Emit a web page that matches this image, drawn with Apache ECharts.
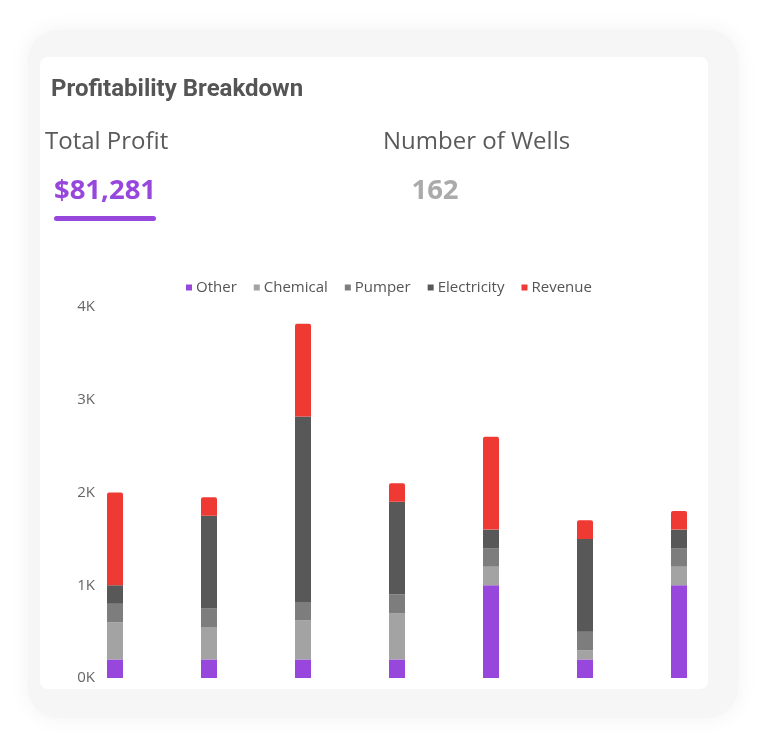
<!DOCTYPE html>
<html>
<head>
<meta charset="utf-8">
<script src="https://cdn.jsdelivr.net/npm/echarts@6/dist/echarts.min.js"></script>
<style>
html,body{margin:0;padding:0;background:#ffffff;}
#chart{width:768px;height:747px;}
</style>
</head>
<body>
<div id="chart"></div>
<script>
var categories = ['1', '2', '3', '4', '5', '6', '7'];
var seriesNames = ['Other', 'Chemical', 'Pumper', 'Electricity', 'Revenue'];
var otherValues = [200, 200, 200, 200, 1000, 200, 1000];
var chemicalValues = [400, 350, 420, 500, 200, 100, 200];
var pumperValues = [200, 200, 200, 200, 200, 200, 200];
var electricityValues = [200, 1000, 2000, 1000, 200, 1000, 200];
var revenueValues = [1000, 200, 1000, 200, 1000, 200, 200];
var yTicks = [0, 1000, 2000, 3000, 4000];
var totalProfitText = '$81,281';
var wellsText = '162';

var colors = ['#9747DB', '#A3A3A3', '#7D7D7D', '#585858', '#EF3A33'];
var valuesList = [otherValues, chemicalValues, pumperValues, electricityValues, revenueValues];

var chart = echarts.init(document.getElementById('chart'));
var series = seriesNames.map(function (name, i) {
  return {
    name: name,
    type: 'bar',
    stack: 'total',
    barWidth: 16,
    data: valuesList[i],
    itemStyle: {
      color: colors[i],
      borderRadius: i === 4 ? [2, 2, 0, 0] : 0
    },
    emphasis: { disabled: true }
  };
});

var option = {
  animation: false,
  color: colors,
  graphic: [
    {
      type: 'rect', z: -10,
      shape: { x: 28, y: 30, width: 710, height: 688, r: 30 },
      style: { fill: '#f6f6f6', shadowBlur: 22, shadowColor: 'rgba(242,242,242,1)' }
    },
    {
      type: 'rect', z: -9,
      shape: { x: 40, y: 57, width: 668, height: 632, r: 8 },
      style: { fill: '#ffffff' }
    },
    {
      type: 'text', z: 10,
      style: { text: 'Profitability Breakdown', x: 51, y: 90, font: 'bold 24px Roboto', fill: '#555555', verticalAlign: 'middle' }
    },
    {
      type: 'text', z: 10,
      style: { text: 'Total Profit', x: 45, y: 142, font: '24px "Open Sans"', fill: '#5a5a5a', verticalAlign: 'middle' }
    },
    {
      type: 'text', z: 10,
      style: { text: 'Number of Wells', x: 383, y: 142, font: '24px "Open Sans"', fill: '#5a5a5a', verticalAlign: 'middle' }
    },
    {
      type: 'text', z: 10,
      style: { text: totalProfitText, x: 105, y: 191, font: 'bold 27.5px "Open Sans"', fill: '#9747DB', align: 'center', verticalAlign: 'middle' }
    },
    {
      type: 'rect', z: 10,
      shape: { x: 54, y: 216, width: 102, height: 5, r: 2.5 },
      style: { fill: '#9747DB' }
    },
    {
      type: 'text', z: 10,
      style: { text: wellsText, x: 435, y: 191, font: 'bold 27.5px "Open Sans"', fill: '#AAAAAA', align: 'center', verticalAlign: 'middle' }
    }
  ],
  legend: {
    data: seriesNames,
    top: 275,
    left: 181,
    icon: 'rect',
    itemWidth: 6,
    itemHeight: 6,
    itemGap: 17,
    textStyle: { fontFamily: 'Open Sans', fontSize: 15, color: '#555555', padding: [0, 0, 0, -1] }
  },
  grid: { left: 68, right: 42, top: 307, bottom: 69, containLabel: false },
  xAxis: {
    type: 'category',
    data: categories,
    axisLine: { show: false },
    axisTick: { show: false },
    axisLabel: { show: false },
    splitLine: { show: false }
  },
  yAxis: {
    type: 'value',
    min: 0,
    max: 4000,
    interval: 1000,
    offset: -35,
    axisLine: { show: false },
    axisTick: { show: false },
    splitLine: { show: false },
    axisLabel: {
      margin: 8,
      fontFamily: 'Open Sans',
      fontSize: 15,
      color: '#666666',
      formatter: function (v) { return (v / 1000) + 'K'; }
    }
  },
  series: series
};
chart.setOption(option);
</script>
</body>
</html>
